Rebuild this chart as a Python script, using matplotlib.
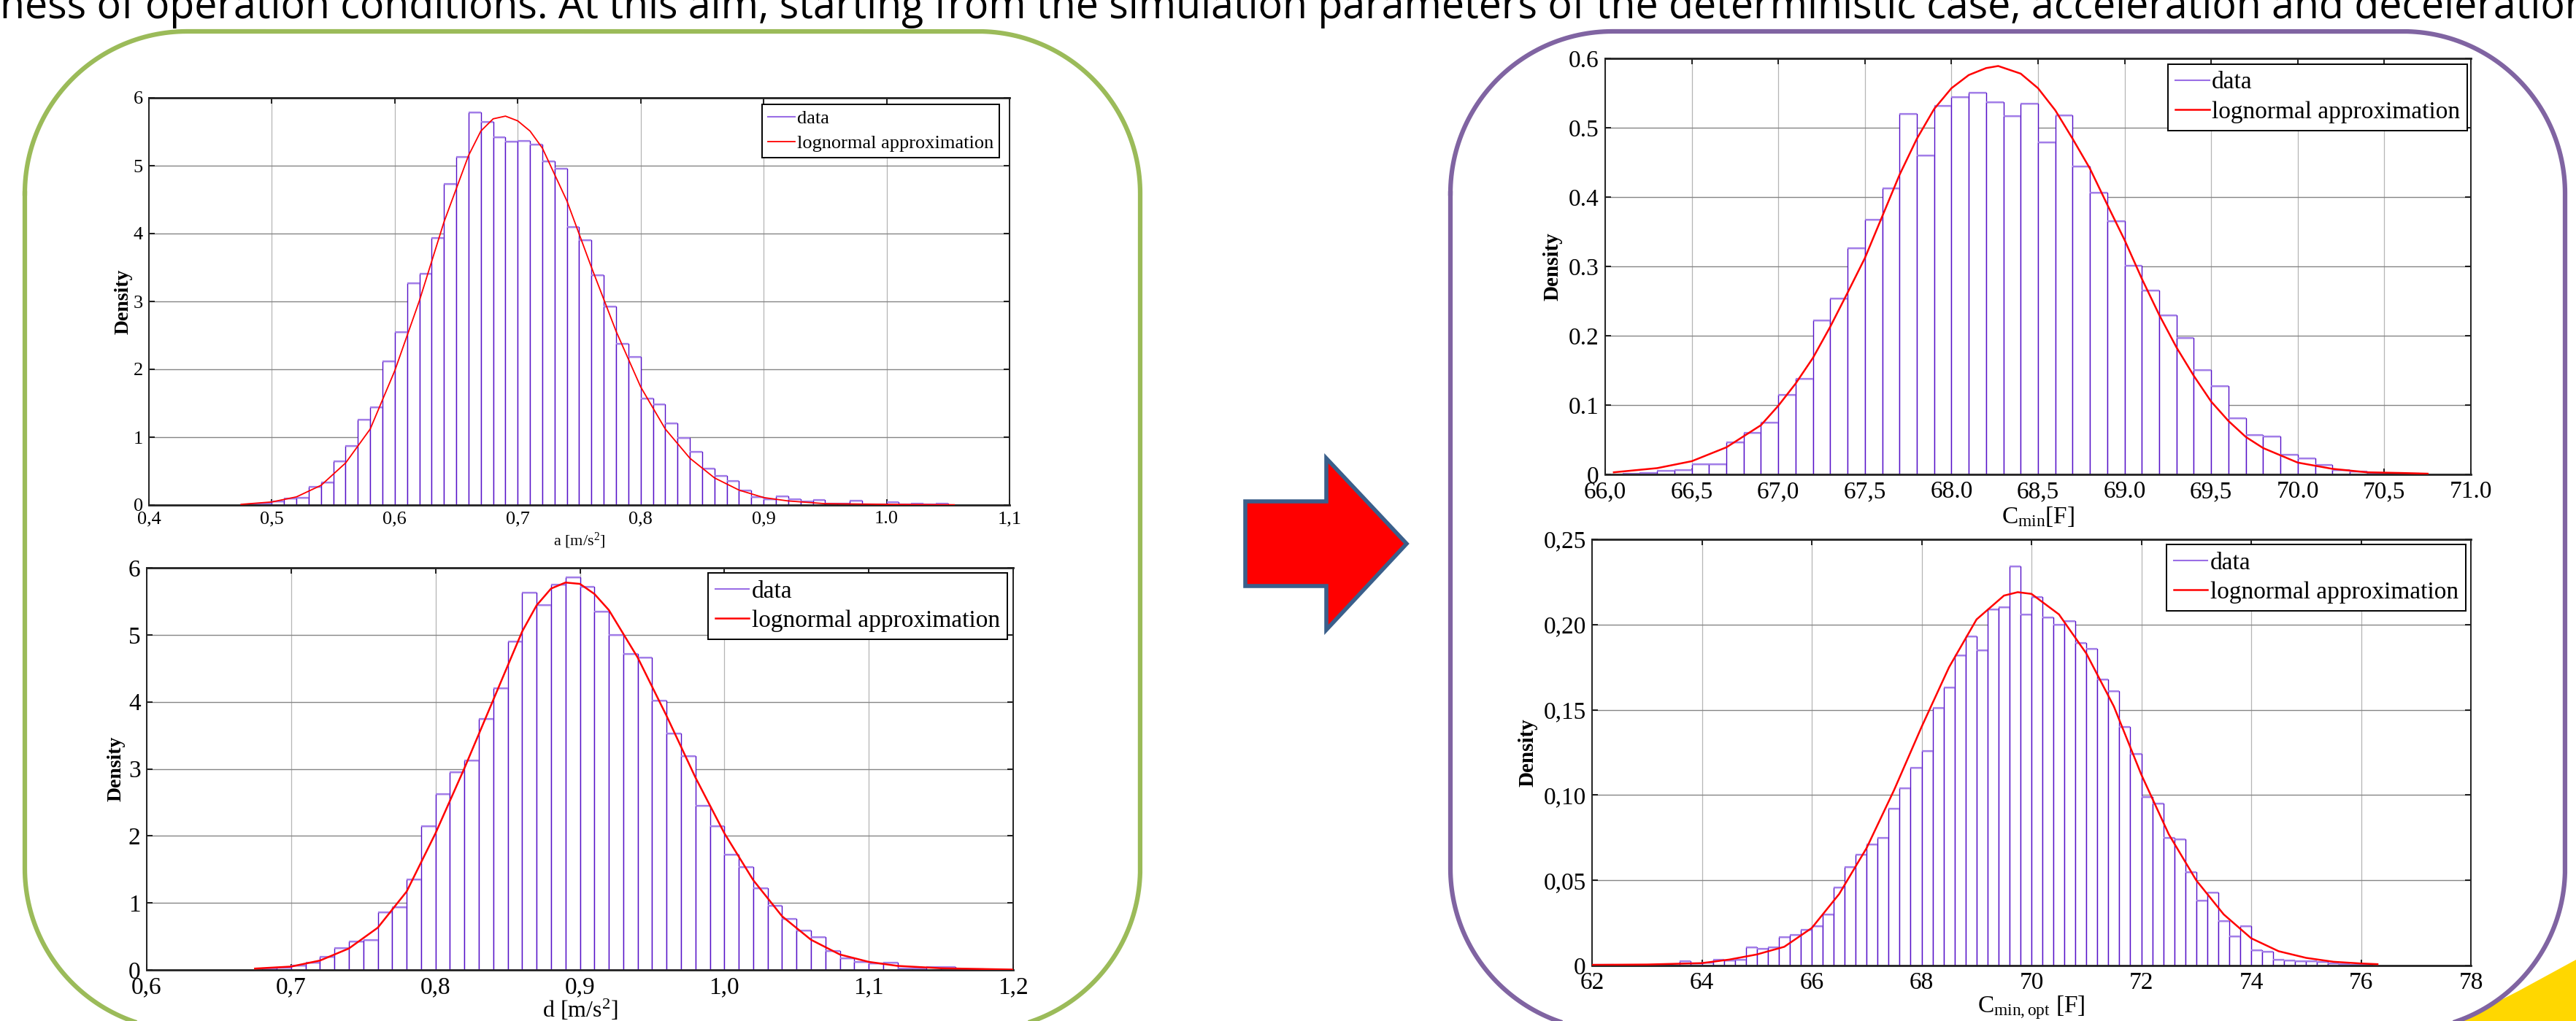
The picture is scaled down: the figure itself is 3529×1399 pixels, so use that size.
import numpy as np
import matplotlib
matplotlib.use("Agg")
import matplotlib.pyplot as plt
from matplotlib.patches import Polygon

plt.rcParams['font.family'] = ['Liberation Serif', 'DejaVu Serif']
plt.rcParams['mathtext.fontset'] = 'custom'
plt.rcParams['mathtext.rm'] = 'Liberation Serif'
plt.rcParams['mathtext.it'] = 'Liberation Serif:italic'

W, H = 3529, 1399

# ---- data: acceleration a [m/s^2] ----
a_bin_start, a_bin_width = 0.48, 0.01
a_density = [0.01, 0.02, 0.05, 0.10, 0.11, 0.27, 0.33, 0.65, 0.87, 1.26,
             1.44, 2.12, 2.55, 3.27, 3.41, 3.94, 4.73, 5.13, 5.78, 5.65,
             5.42, 5.35, 5.37, 5.31, 5.06, 4.96, 4.10, 3.90, 3.39, 2.93,
             2.38, 2.18, 1.57, 1.48, 1.20, 0.99, 0.78, 0.54, 0.43, 0.35,
             0.21, 0.12, 0.09, 0.13, 0.09, 0.05, 0.08, 0.02, 0.02, 0.06,
             0.01, 0.01, 0.04, 0.01, 0.02, 0.01, 0.02]
a_fit_x = [0.475, 0.50, 0.52, 0.54, 0.56, 0.58, 0.60, 0.62, 0.64, 0.66, 0.67,
           0.68, 0.69, 0.70, 0.71, 0.72, 0.74, 0.76, 0.78, 0.80, 0.82, 0.84,
           0.86, 0.88, 0.90, 0.92, 0.95, 1.00, 1.055]
a_fit_y = [0.01, 0.045, 0.12, 0.29, 0.62, 1.12, 1.98, 3.01, 4.17, 5.15, 5.51,
           5.69, 5.73, 5.66, 5.51, 5.26, 4.48, 3.50, 2.56, 1.74, 1.12, 0.69,
           0.40, 0.22, 0.11, 0.06, 0.02, 0.01, 0.004]
a_xticks = [0.4, 0.5, 0.6, 0.7, 0.8, 0.9, 1.0, 1.1]
a_xlabels = ['0,4', '0,5', '0,6', '0,7', '0,8', '0,9', '1.0', '1,1']

# ---- data: deceleration d [m/s^2] ----
d_bin_start, d_bin_width = 0.68, 0.01
d_density = [0.02, 0.03, 0.07, 0.11, 0.20, 0.33, 0.43, 0.45, 0.86, 0.94,
             1.35, 2.15, 2.62, 2.95, 3.13, 3.75, 4.20, 4.90, 5.63, 5.45,
             5.75, 5.86, 5.72, 5.35, 5.00, 4.71, 4.66, 4.02, 3.53, 3.19,
             2.45, 2.14, 1.72, 1.53, 1.22, 0.96, 0.76, 0.59, 0.49, 0.28,
             0.17, 0.12, 0.10, 0.11, 0.02, 0.02, 0.04, 0.04, 0.01, 0.01]
d_fit_x = [0.675, 0.70, 0.72, 0.74, 0.76, 0.78, 0.80, 0.82, 0.84, 0.86, 0.87,
           0.88, 0.89, 0.90, 0.91, 0.92, 0.94, 0.96, 0.98, 1.00, 1.02, 1.04,
           1.06, 1.08, 1.10, 1.12, 1.15, 1.20]
d_fit_y = [0.02, 0.05, 0.14, 0.32, 0.63, 1.17, 2.04, 3.01, 4.03, 5.05, 5.44,
           5.69, 5.78, 5.76, 5.61, 5.37, 4.66, 3.79, 2.87, 2.04, 1.34, 0.80,
           0.45, 0.23, 0.12, 0.06, 0.025, 0.005]
d_xticks = [0.6, 0.7, 0.8, 0.9, 1.0, 1.1, 1.2]
d_xlabels = ['0,6', '0,7', '0,8', '0,9', '1,0', '1,1', '1,2']

# ---- data: C_min [F] ----
c_bin_start, c_bin_width = 66.1, 0.1
c_density = [0.001, 0.002, 0.005, 0.006, 0.015, 0.015, 0.046, 0.060, 0.075,
             0.115, 0.138, 0.222, 0.254, 0.326, 0.367, 0.413, 0.520, 0.460,
             0.532, 0.544, 0.551, 0.537, 0.517, 0.535, 0.479, 0.518, 0.444,
             0.406, 0.365, 0.301, 0.265, 0.229, 0.197, 0.151, 0.127, 0.081,
             0.057, 0.055, 0.028, 0.023, 0.014, 0.006, 0.004, 0.002, 0.001,
             0.001]
c_fit_x = [66.05, 66.3, 66.5, 66.7, 66.9, 67.0, 67.1, 67.2, 67.3, 67.4, 67.5,
           67.6, 67.7, 67.8, 67.9, 68.0, 68.1, 68.2, 68.27, 68.4, 68.5, 68.6,
           68.7, 68.8, 68.9, 69.0, 69.1, 69.2, 69.3, 69.4, 69.5, 69.6, 69.7,
           69.8, 70.0, 70.2, 70.4, 70.6, 70.75]
c_fit_y = [0.003, 0.009, 0.019, 0.039, 0.071, 0.099, 0.131, 0.168, 0.213,
           0.262, 0.312, 0.372, 0.432, 0.484, 0.527, 0.557, 0.576, 0.586,
           0.589, 0.578, 0.557, 0.525, 0.484, 0.441, 0.389, 0.338, 0.282,
           0.230, 0.183, 0.142, 0.105, 0.077, 0.054, 0.038, 0.017, 0.008,
           0.003, 0.002, 0.001]
c_xticks = [66.0, 66.5, 67.0, 67.5, 68.0, 68.5, 69.0, 69.5, 70.0, 70.5, 71.0]
c_xlabels = ['66,0', '66,5', '67,0', '67,5', '68.0', '68,5', '69.0', '69,5',
             '70.0', '70,5', '71.0']
c_yticks = [0, 0.1, 0.2, 0.3, 0.4, 0.5, 0.6]
c_ylabels = ['0', '0.1', '0.2', '0.3', '0.4', '0.5', '0.6']

# ---- data: C_min,opt [F] ----
o_bin_start, o_bin_width = 62.0, 0.2
o_density = [0.0003, 0.0004, 0.0001, 0.0, 0.0001, 0.0002, 0.0004, 0.0002,
             0.0024, 0.0014, 0.0018, 0.0035, 0.0030, 0.0033, 0.0106, 0.0098,
             0.0106, 0.0167, 0.018, 0.021, 0.023, 0.030, 0.046, 0.058, 0.065,
             0.071, 0.075, 0.092, 0.104, 0.116, 0.126, 0.151, 0.163, 0.182,
             0.193, 0.185, 0.209, 0.210, 0.234, 0.206, 0.216, 0.204, 0.200,
             0.202, 0.189, 0.186, 0.168, 0.161, 0.140, 0.124, 0.099, 0.095,
             0.075, 0.074, 0.055, 0.038, 0.043, 0.026, 0.017, 0.023, 0.009,
             0.008, 0.0035, 0.0030, 0.0024, 0.0027, 0.0020, 0.0014, 0.0008,
             0.0006, 0.0004]
o_fit_x = [62.0, 63.0, 64.0, 64.5, 65.0, 65.5, 66.0, 66.5, 67.0, 67.5, 68.0,
           68.5, 69.0, 69.5, 69.75, 70.0, 70.5, 71.0, 71.5, 72.0, 72.5, 73.0,
           73.5, 74.0, 74.5, 75.0, 75.5, 76.0, 76.3]
o_fit_y = [0.0004, 0.0006, 0.0014, 0.0035, 0.0065, 0.011, 0.022, 0.042, 0.069,
           0.103, 0.140, 0.175, 0.203, 0.217, 0.219, 0.218, 0.206, 0.183,
           0.152, 0.112, 0.077, 0.050, 0.030, 0.016, 0.0084, 0.0045, 0.0022,
           0.0012, 0.0008]
o_xticks = [62, 64, 66, 68, 70, 72, 74, 76, 78]
o_yticks = [0, 0.05, 0.10, 0.15, 0.20, 0.25]
o_ylabels = ['0', '0,05', '0,10', '0,15', '0,20', '0,25']

intro_text = ("ness of operation conditions. At this aim, starting from the "
              "simulation parameters of the deterministic case, acceleration "
              "and deceleration")

BAR_EDGE = '#5510c8'
BAR_TOP = '#a27ee8'
LEG_DATA = '#9a6ee6'


def px_axes(fig, x0, y0, x1, y1):
    return fig.add_axes([x0 / W, 1 - y1 / H, (x1 - x0) / W, (y1 - y0) / H])


def rounded_outline(ax, x0, y0, x1, y1, r, color):
    # rounded rectangle with true circular corners, pixel coords (y down)
    xs, ys = [], []
    corners = [(x0 + r, y0 + r, np.pi), (x1 - r, y0 + r, 1.5 * np.pi),
               (x1 - r, y1 - r, 0.0), (x0 + r, y1 - r, 0.5 * np.pi)]
    for cx, cy, a0 in corners:
        t = np.linspace(a0, a0 + 0.5 * np.pi, 60)
        xs.extend(cx + r * np.cos(t))
        ys.extend(cy + r * np.sin(t))
    xs.append(xs[0])
    ys.append(ys[0])
    ax.plot(xs, ys, color=color, linewidth=4.5, solid_joinstyle='round')


def draw_hist(ax, start, width, heights, fx, fy, fsize, lw_fit):
    edges = start + width * np.arange(len(heights))
    ax.bar(edges, heights, width=width, align='edge', facecolor='white',
           edgecolor=BAR_EDGE, linewidth=1.0, zorder=2)
    ax.hlines(heights, edges, edges + width, color=BAR_TOP, linewidth=1.6, zorder=2.5)
    ax.plot([], [], color=LEG_DATA, linewidth=1.5, label='data')
    ax.plot(fx, fy, color='red', linewidth=lw_fit, zorder=3,
            label='lognormal approximation')
    # matlab-ish grid: darker horizontals, light verticals
    ax.grid(True, axis='y', color='#858585', linewidth=1.0)
    ax.grid(True, axis='x', color='#b5b5b5', linewidth=0.9)
    ax.set_axisbelow(True)
    for s in ax.spines.values():
        s.set_linewidth(1.4)
        s.set_color('#222222')
    ax.spines['top'].set_linewidth(2.0)
    ax.spines['bottom'].set_linewidth(2.0)
    ax.tick_params(direction='in', top=True, right=True, length=6, width=1.2,
                   labelsize=fsize, pad=6)


def add_legend(ax, anchor, size, spacing):
    leg = ax.legend(loc='upper right', bbox_to_anchor=anchor, fontsize=size,
                    fancybox=False, edgecolor='black', framealpha=1,
                    borderaxespad=0, handlelength=1.4, handletextpad=0.1,
                    borderpad=0.3, labelspacing=spacing)
    leg.get_frame().set_linewidth(1.4)


fig = plt.figure(figsize=(W / 100, H / 100), dpi=100, facecolor='white')

# decorations layer (pixel coordinates)
deco = fig.add_axes([0, 0, 1, 1], zorder=-1)
deco.set_xlim(0, W)
deco.set_ylim(H, 0)
deco.axis('off')
rounded_outline(deco, 34, 43, 1562, 1412, 222, '#9bbb59')
rounded_outline(deco, 1987, 43, 3514, 1412, 222, '#8064a2')
deco.add_patch(Polygon([(1706, 687), (1817, 687), (1817, 628), (1927, 745),
                        (1817, 863), (1817, 803), (1706, 803)], closed=True,
                       facecolor='#ff0000', edgecolor='#3a5f8b', linewidth=4.0,
                       joinstyle='miter'))
deco.add_patch(Polygon([(3529, 1315), (3450, 1358), (3370, 1399), (3529, 1399)],
                       closed=True, facecolor='#ffd700', edgecolor='none'))
deco.text(0, 25, intro_text, fontsize=40, family=['Open Sans', 'DejaVu Sans'],
          ha='left', va='baseline', color='black')

# panel a
ax = px_axes(fig, 204, 134, 1383, 692)
draw_hist(ax, a_bin_start, a_bin_width, a_density, a_fit_x, a_fit_y, 19, 1.3)
ax.set_xlim(0.4, 1.1)
ax.set_ylim(0, 6)
ax.set_xticks(a_xticks)
ax.set_xticklabels(a_xlabels)
ax.set_yticks(range(7))
ax.set_xlabel(r'a [m/s$^{\mathrm{2}}$]', fontsize=16, labelpad=4)
ax.set_ylabel('Density', fontsize=20, fontweight='bold')
ax.yaxis.set_label_coords(-0.019, 0.5)
add_legend(ax, (0.988, 0.984), 19, 0.4)

# panel d
ax = px_axes(fig, 201, 778, 1388, 1329)
draw_hist(ax, d_bin_start, d_bin_width, d_density, d_fit_x, d_fit_y, 24, 1.8)
ax.set_xlim(0.6, 1.2)
ax.set_ylim(0, 6)
ax.set_xticks(d_xticks)
ax.set_xticklabels(d_xlabels)
ax.set_yticks(range(7))
ax.set_xlabel(r'd [m/s$^{\mathrm{2}}$]', fontsize=23, labelpad=0)
ax.set_ylabel('Density', fontsize=20, fontweight='bold')
ax.yaxis.set_label_coords(-0.025, 0.5)
add_legend(ax, (0.993, 0.987), 24, 0.3)

# panel C_min
ax = px_axes(fig, 2199, 80, 3385, 650)
draw_hist(ax, c_bin_start, c_bin_width, c_density, c_fit_x, c_fit_y, 24, 1.8)
ax.set_xlim(66.0, 71.0)
ax.set_ylim(0, 0.6)
ax.set_xticks(c_xticks)
ax.set_xticklabels(c_xlabels)
ax.set_yticks(c_yticks)
ax.set_yticklabels(c_ylabels)
ax.set_xlabel(r'C$_{\mathrm{min}}$[F]', fontsize=24, labelpad=2)
ax.set_ylabel('Density', fontsize=21, fontweight='bold')
ax.yaxis.set_label_coords(-0.049, 0.5)
add_legend(ax, (0.996, 0.986), 24, 0.3)

# panel C_min,opt
ax = px_axes(fig, 2181, 739, 3385, 1323)
draw_hist(ax, o_bin_start, o_bin_width, o_density, o_fit_x, o_fit_y, 24, 1.8)
ax.set_xlim(62, 78)
ax.set_ylim(0, 0.25)
ax.set_xticks(o_xticks)
ax.set_yticks(o_yticks)
ax.set_yticklabels(o_ylabels)
ax.set_xlabel(r'C$_{\mathrm{min,opt}}$ [F]', fontsize=24, labelpad=0)
ax.set_ylabel('Density', fontsize=21, fontweight='bold')
ax.yaxis.set_label_coords(-0.062, 0.5)
add_legend(ax, (0.994, 0.988), 24, 0.3)

fig.savefig('out.png', dpi=100, facecolor='white')
